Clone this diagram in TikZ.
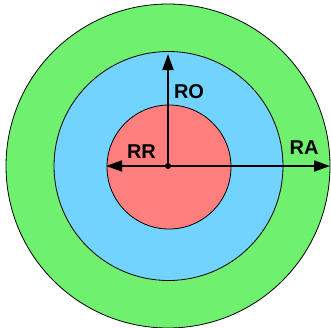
\documentclass[tikz,border=0pt]{standalone}
\usepackage{fontspec}
\setmainfont{Liberation Sans}
\usetikzlibrary{arrows.meta,positioning}
\definecolor{ringA}{HTML}{6FF06F}
\definecolor{ringO}{HTML}{73D3FF}
\definecolor{ringR}{HTML}{FF7F7F}

\begin{document}
\begin{tikzpicture}[
    x=1pt,y=1pt,
    ring/.style={circle,draw=black,line width=0.8pt,inner sep=0pt},
    radius/.style={-{Triangle[length=16pt,width=11pt]},line width=1.8pt},
    lbl/.style={font=\fontsize{20}{22}\selectfont\bfseries,inner sep=0pt}
  ]
    \useasboundingbox (-168,-161) rectangle (163,166);

    \node[ring,fill=ringA,minimum size=324pt] (outer) at (0,0) {};
    \node[ring,fill=ringO,minimum size=229pt] (mid) at (0.5,0) {};
    \node[ring,fill=ringR,minimum size=124pt] (inner) at (1,-1) {};

    \coordinate (c) at (0,0);
    \coordinate (ratip) at (162,0);
    \coordinate (rotip) at (0,112);
    \coordinate (rrtip) at (-62,0);

    \draw[radius] (c) -- (rotip);
    \draw[radius] (c) -- (rrtip);
    \draw[radius] (c) -- (ratip);
    \fill (c) circle (3pt);

    \node[lbl] (ro) at (21,74) {RO};
    \node[lbl] (rr) at (-26.5,14) {RR};
    \node[lbl] (ra) at (136,18) {RA};
\end{tikzpicture}
\end{document}
